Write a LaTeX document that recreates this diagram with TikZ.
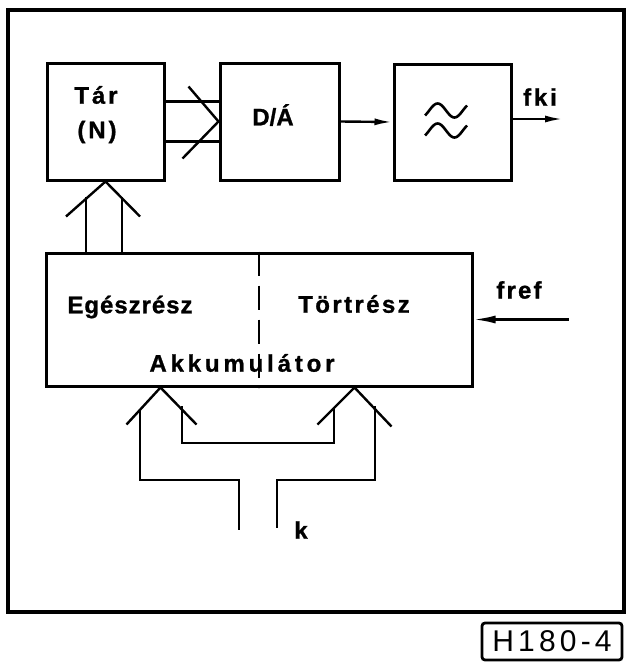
\documentclass[tikz,border=0pt]{standalone}
\usepackage{fontspec}
\setmainfont{Liberation Sans}
\usetikzlibrary{arrows.meta,calc}
\begin{document}
\begin{tikzpicture}[x=1pt,y=-1pt,
  blk/.style={draw, line width=3pt, inner sep=0pt},
  wire/.style={line width=2.4pt},
  lbl/.style={font=\fontsize{24}{28}\selectfont\bfseries\addfontfeature{LetterSpace=#1,FakeBold=1}, inner sep=0pt},
  tipend/.style={-{Latex[length=18pt,width=7pt]}}]
\useasboundingbox (0,0) rectangle (626,665);
% frame
\node[draw, line width=3.5pt, minimum width=616, minimum height=602, inner sep=0pt] (frame) at (316,311) {};
% blocks
\node[blk, minimum width=117, minimum height=117] (tar) at (105.5,121.5) {};
\node[blk, minimum width=119, minimum height=117] (da) at (279.5,121.5) {};
\node[blk, minimum width=117, minimum height=116] (lp) at (452.5,122) {};
\node[blk, minimum width=426, minimum height=133] (acc) at (259,319.5) {};
% texts
\node[lbl=12] (tartxt) at (96,95) {Tár};
\node[lbl=12] (ntxt) at (97,132) {(N)};
\node[lbl=0] (datxt) at (273,115) {D/Á};
\node[lbl=4] (egesz) at (130,307) {Egészrész};
\node[lbl=10] (tort) at (354,304) {Törtrész};
\node[lbl=16] (akku) at (242,363) {Akkumulátor};
\node[lbl=12] (fki) at (540,97) {fki};
\node[lbl=9] (fref) at (519,290) {fref};
\node[lbl=0] (k) at (301,530) {k};
\node[draw, line width=2.8pt, rounded corners=3pt, minimum width=140, minimum height=37, inner sep=0pt,
  font=\fontsize{30}{32}\selectfont\addfontfeature{LetterSpace=14}] (code) at (552,641.5) {H180-4};
% filter symbol
\draw[line width=2.6pt] plot[domain=-45:405, samples=40, smooth] ({425+(\x+45)/10.7}, {110.5-7*sin(\x)});
\draw[line width=2.6pt] plot[domain=-45:405, samples=40, smooth] ({425+(\x+45)/10.7}, {130.5-7*sin(\x)});
% Tar -> D/A double line
\draw[wire] ($(tar.north east)+(0,40)$) -- ($(da.north west)+(0,40)$);
\draw[wire] ($(tar.north east)+(0,80)$) -- ($(da.north west)+(0,80)$);
\draw[wire] ($(da.west)+(-30,-35)$) -- (da.west) -- ++(-36,37);
% D/A -> filter, output
\draw[wire, tipend] (da.east) -- (lp.west);
\coordinate (fkiend) at (563,119);
\draw[wire, tipend] (lp.east |- fkiend) -- (fkiend);
% acc -> Tar
\coordinate (v1) at (86,197);
\coordinate (v2) at (122,197);
\draw[wire] (v1) -- (v1 |- acc.north);
\draw[wire] (v2) -- (v2 |- acc.north);
\draw[wire] ($(tar.south)+(-39.5,35)$) -- (tar.south) -- ++(34.5,35);
% fref
\draw[wire, {Latex[length=22pt,width=8pt]}-] (acc.east) -- ++(95,0);
% divider
\draw[line width=2pt, dash pattern=on 24pt off 10pt] (acc.north) -- (acc.south);
% k inputs
\coordinate (tipL) at ($(acc.south west)+(116,0)$);
\coordinate (tipR) at ($(acc.south west)+(310,0)$);
\draw[wire] ($(tipL)+(-34,37)$) -- (tipL) -- ++(36,37);
\draw[wire] ($(tipR)+(-37,37)$) -- (tipR) -- ++(37,39);
\coordinate (kL) at (239,530);
\coordinate (kR) at (277,528);
\draw[wire] (140,410) -- (140,480) -- (kL |- 0,480) -- (kL);
\draw[wire] (182,406) -- (182,443) -- (334,443) -- (334,408);
\draw[wire] (375,406) -- (375,480) -- (kR |- 0,480) -- (kR);
\end{tikzpicture}
\end{document}
